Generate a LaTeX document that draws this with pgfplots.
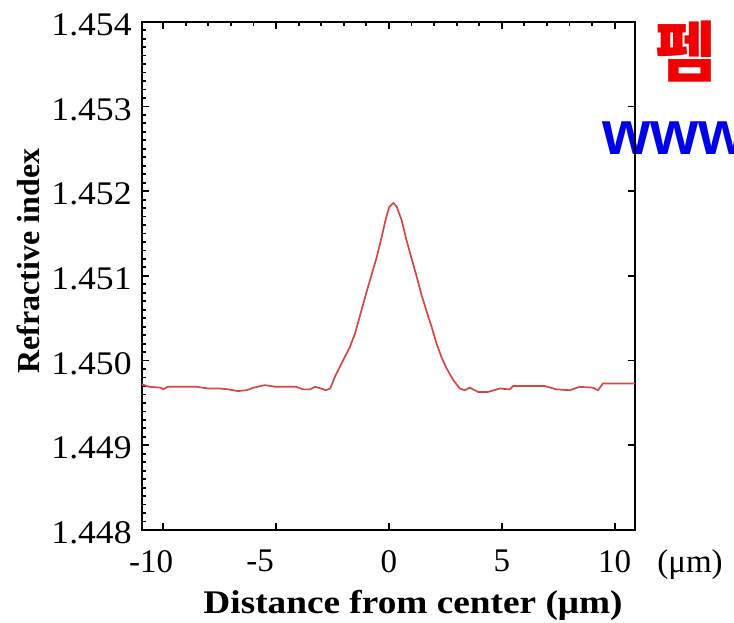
\documentclass[border=0pt]{standalone}
\usepackage{fontspec}
\setmainfont{Liberation Serif}
\newfontfamily\krfont{Noto Sans CJK KR}
\newfontfamily\wwwfont{Liberation Sans}
\usepackage{graphicx}
\usepackage{pgfplots}
\pgfplotsset{compat=1.18}

\definecolor{curvered}{RGB}{214,70,70}
\definecolor{wmred}{RGB}{240,0,0}
\definecolor{wmblue}{RGB}{0,0,235}

\newcommand{\yl}[1]{\scalebox{1.08}[1]{#1}}

\begin{document}
\begin{tikzpicture}
\useasboundingbox (0,0) rectangle (367pt,311pt);

% watermark pieces, cut off at the right edge
\node[anchor=center, inner sep=0pt, text=wmred,
      font=\krfont\bfseries\fontsize{33}{33}\selectfont] at (343pt,285pt) {펨};
\node[anchor=base west, inner sep=0pt, text=wmblue,
      font=\wwwfont\bfseries\fontsize{31}{31}\selectfont] at (301pt,233.5pt) {www};

% top and right ticks
\begin{axis}[
    at={(70.85pt,46pt)}, anchor=south west,
    scale only axis, width=246.65pt, height=254.15pt,
    xmin=-10.95, xmax=10.9, ymin=1.448, ymax=1.454,
    axis line style={line width=1.2pt},
    tick style={line width=0.9pt, black},
    tick align=inside,
    major tick length=3.5pt, minor tick length=2pt,
    xtick={-10,-5,0,5,10}, minor x tick num=4,
    ytick={1.448,1.449,1.450,1.451,1.452,1.453,1.454},
    xtick pos=right, ytick pos=right,
    xticklabels={}, yticklabels={},
    scaled y ticks=false,
]
\end{axis}

\begin{axis}[
    at={(70.85pt,46pt)}, anchor=south west,
    scale only axis, width=246.65pt, height=254.15pt,
    xmin=-10.95, xmax=10.9, ymin=1.448, ymax=1.454,
    axis line style={line width=1.2pt},
    tick style={line width=0.9pt, black},
    tick align=inside,
    major tick length=3.5pt, minor tick length=2pt,
    xtick pos=left, ytick pos=left,
    xtick={-10,-5,0,5,10},
    xticklabels={-10\rule{12pt}{0pt},-5\rule{16pt}{0pt},0,5,10},
    ytick={1.448,1.449,1.450,1.451,1.452,1.453,1.454},
    yticklabels={\yl{1.448},\yl{1.449},\yl{1.450},\yl{1.451},\yl{1.452},\yl{1.453},\yl{1.454}},
    minor y tick num=9,
    scaled y ticks=false,
    ticklabel style={font=\fontsize{16.5}{16.5}\selectfont},
    xticklabel style={yshift=-6.5pt},
    yticklabel style={xshift=-1.5pt, yshift=-1.5pt},
    xlabel={\scalebox{1.13}[1]{Distance from center (μm)}},
    ylabel={Refractive index},
    xlabel style={font=\bfseries\fontsize{16.5}{16.5}\selectfont,
                  at={(axis description cs:0.55,-0.1475)}, anchor=center},
    ylabel style={font=\bfseries\fontsize{16}{16}\selectfont,
                  at={(axis description cs:-0.229,0.5292)}, anchor=center},
]
\addplot[color=curvered, line width=0.85pt, mark=none] coordinates {
    (-10.95,1.44972) (-10.6,1.44969) (-10.1,1.44968) (-10.0,1.44966)
    (-9.8,1.44969) (-9.2,1.44969) (-8.5,1.44969) (-8.0,1.44967)
    (-7.5,1.44967) (-7.1,1.44966) (-6.7,1.44964) (-6.3,1.44965)
    (-6.0,1.44968) (-5.5,1.44971) (-5.0,1.44969) (-4.5,1.44969)
    (-4.1,1.44969) (-3.8,1.44966) (-3.5,1.44966) (-3.27,1.44969)
    (-3.0,1.44967) (-2.8,1.44965) (-2.6,1.44967)
    (-2.39,1.44981) (-2.09,1.44997) (-1.73,1.45016) (-1.50,1.45032)
    (-1.21,1.45060) (-0.99,1.45081) (-0.77,1.45101) (-0.54,1.45122)
    (-0.32,1.45146) (-0.13,1.45168) (0.01,1.45181) (0.19,1.45186)
    (0.34,1.45182) (0.56,1.45166) (0.78,1.45142) (1.00,1.45121)
    (1.23,1.45099) (1.45,1.45077) (1.67,1.45058) (1.89,1.45040)
    (2.11,1.45020) (2.33,1.45004) (2.55,1.44991) (2.85,1.44977)
    (3.14,1.44967) (3.36,1.44965) (3.58,1.44968) (3.95,1.44963)
    (4.39,1.44963) (4.91,1.44967) (5.35,1.44966) (5.50,1.44970)
    (6.2,1.44970) (6.9,1.44970) (7.42,1.44966) (8.01,1.44965)
    (8.45,1.44969) (9.04,1.44968) (9.26,1.44965) (9.48,1.44973)
    (10.2,1.44973) (10.9,1.44973)
};
\end{axis}

\node[anchor=center, inner sep=0pt, font=\fontsize{16.5}{16.5}\selectfont]
    at (345pt,28.5pt) {(μm)};
\end{tikzpicture}
\end{document}
